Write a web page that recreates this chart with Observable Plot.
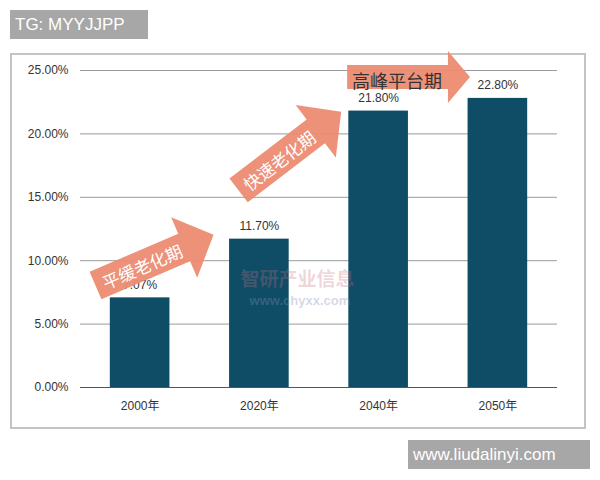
<!DOCTYPE html>
<html>
<head>
<meta charset="utf-8">
<script src="https://cdn.jsdelivr.net/npm/d3@7"></script>
<script src="https://cdn.jsdelivr.net/npm/@observablehq/plot@0.6"></script>
<style>
  html, body { margin: 0; padding: 0; background: #fff; }
  body { width: 600px; height: 480px; position: relative; overflow: hidden;
         font-family: "Liberation Sans", "Noto Sans CJK SC", sans-serif; }
  .tag { position: absolute; background: #a7a7a7; color: #fff; font-size: 17px;
         box-sizing: border-box; padding-left: 5px; }
  #tag1 { left: 10px; top: 10px; width: 138px; height: 29px; line-height: 29px; }
  #tag2 { left: 408px; top: 440px; width: 182px; height: 29px; line-height: 29px; padding-left: 5px; }
  #chart { position: absolute; left: 10px; top: 53px; width: 572px; height: 372px;
           border: 2px solid #c4c4c4; }
  #chart svg { overflow: visible; }
</style>
</head>
<body>
<div class="tag" id="tag1">TG: MYYJJPP</div>
<div id="chart"></div>
<div class="tag" id="tag2">www.liudalinyi.com</div>
<script>
// ---- data ----
const years = ["2000年", "2020年", "2040年", "2050年"];
const shares = [7.07, 11.7, 21.8, 22.8];
const yTicks = [0, 5, 10, 15, 20, 25];

// phase annotation arrows (data units: x = category index, y = percent)
const phaseLabels = ["平缓老化期", "快速老化期", "高峰平台期"];
const phaseFromX = [-0.37, 0.83, 1.74];
const phaseFromY = [8.0, 15.5, 24.45];
const phaseToX = [0.62, 1.69, 2.77];
const phaseToY = [12.0, 21.7, 24.45];

const watermark = ["智研产业信息", "www.chyxx.com"];

const data = years.map((year, i) => ({ i, year, v: shares[i] }));

function phaseArrows(index, scales) {
  const g = d3.create("svg:g");
  phaseLabels.forEach((lab, k) => {
    const x1 = scales.x(phaseFromX[k]), y1 = scales.y(phaseFromY[k]);
    const x2 = scales.x(phaseToX[k]), y2 = scales.y(phaseToY[k]);
    const len = Math.hypot(x2 - x1, y2 - y1);
    const ang = Math.atan2(y2 - y1, x2 - x1) * 180 / Math.PI;
    const [bw, hw, hl] = k === 2 ? [24, 52, 22] : [30, 66, 32];
    const d = `M0,${-bw / 2}L${len - hl},${-bw / 2}L${len - hl},${-hw / 2}L${len},0` +
              `L${len - hl},${hw / 2}L${len - hl},${bw / 2}L0,${bw / 2}Z`;
    const a = g.append("g").attr("transform", `translate(${x1},${y1}) rotate(${ang})`);
    a.append("path").attr("d", d).attr("fill", "#ec8b72").attr("fill-opacity", 0.95);
    a.append("text")
      .attr("x", k === 2 ? 5 : 8)
      .attr("y", k === 2 ? 5 : 2)
      .attr("dy", "0.35em")
      .attr("text-anchor", "start")
      .attr("fill", k === 2 ? "#333" : "#fff")
      .attr("font-size", k === 2 ? 18 : 17)
      .attr("font-family", "'Noto Sans CJK SC', sans-serif")
      .text(lab);
  });
  return g.node();
}

const chart = Plot.plot({
  width: 572,
  height: 372,
  marginLeft: 68,
  marginRight: 27,
  marginTop: 15,
  marginBottom: 40,
  style: { fontFamily: "'Liberation Sans', 'Noto Sans CJK SC', sans-serif", fontSize: "12px", color: "#333", background: "#fff", overflow: "visible" },
  x: { domain: [-0.5, 3.5], ticks: [0, 1, 2, 3], tickFormat: i => years[i], tickSize: 0, tickPadding: 14, label: null },
  y: { domain: [0, 25], ticks: yTicks, tickFormat: t => t.toFixed(2) + "%", tickSize: 0, tickPadding: 12, label: null },
  marks: [
    Plot.ruleY(yTicks.filter(t => t > 0), { stroke: "#9a9a9a", strokeWidth: 1 }),
    Plot.rectY(data, { x1: d => d.i - 0.25, x2: d => d.i + 0.25, y: "v", fill: "#0f4d66" }),
    Plot.ruleY([0], { stroke: "#555", strokeWidth: 1 }),
    Plot.text(data, { x: "i", y: "v", text: d => d.v.toFixed(2) + "%", dy: -13, fontSize: 12, fill: "#333" }),
    phaseArrows,
    Plot.text([watermark[0]], { x: 1.32, y: 8.45, text: d => d, fontSize: 19, fontWeight: "bold", fill: "#c9707f", fillOpacity: 0.3 }),
    Plot.text([watermark[1]], { x: 1.34, y: 6.8, text: d => d, fontSize: 13, fontWeight: "bold", fill: "#7d8fb8", fillOpacity: 0.35 })
  ]
});
document.getElementById("chart").appendChild(chart);
</script>
</body>
</html>
